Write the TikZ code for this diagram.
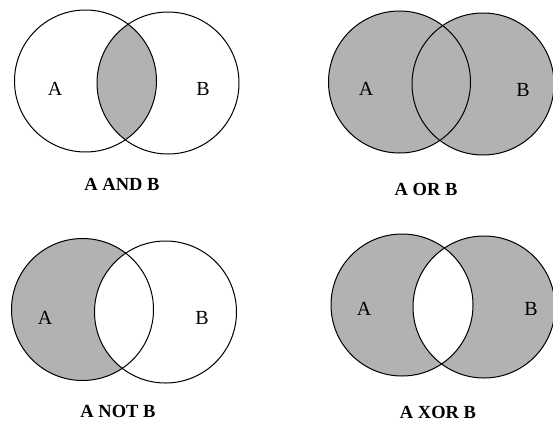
\documentclass[tikz,border=0pt]{standalone}
\usepackage{fontspec}
\setmainfont{Liberation Serif}
\begin{document}
\begin{tikzpicture}[x=1pt,y=-1pt,
  ring/.style={draw=black,line width=1pt},
  shade/.style={fill=black!30},
  setlabel/.style={font=\fontsize{20}{20}\selectfont},
  caption/.style={font=\bfseries\fontsize{18.5}{18.5}\selectfont,inner sep=1pt}]
\useasboundingbox (0,0) rectangle (553,423);
\def\R{71}
% ---------- A AND B ----------
\begin{scope}
  \clip (85.5,81) circle (\R);
  \fill[shade] (168,83) circle (\R);
\end{scope}
\draw[ring] (85.5,81) circle (\R);
\draw[ring] (168,83) circle (\R);
\node[setlabel] (a1) at (55,89) {A};
\node[setlabel] (b1) at (203,89) {B};
\node[caption] (c1) at (122,184) {A AND B};
% ---------- A OR B ----------
\fill[shade] (399.5,82) circle (\R);
\fill[shade] (483,84) circle (\R);
\draw[ring] (399.5,82) circle (\R);
\draw[ring] (483,84) circle (\R);
\node[setlabel] (a2) at (366,89) {A};
\node[setlabel] (b2) at (523,90) {B};
\node[caption] (c2) at (426,189) {A OR B};
% ---------- A NOT B ----------
\fill[shade,even odd rule] (82.5,309.5) circle (\R) (165.5,312) circle (\R);
\fill[white] (165.5,312) circle (\R);
\draw[ring] (82.5,309.5) circle (\R);
\draw[ring] (165.5,312) circle (\R);
\node[setlabel] (a3) at (45,318) {A};
\node[setlabel] (b3) at (202,318) {B};
\node[caption] (c3) at (118,411) {A NOT B};
% ---------- A XOR B ----------
\fill[shade,even odd rule] (402,305) circle (\R) (484,307) circle (\R);
\draw[ring] (402,305) circle (\R);
\draw[ring] (484,307) circle (\R);
\node[setlabel] (a4) at (364,309) {A};
\node[setlabel] (b4) at (531,309) {B};
\node[caption] (c4) at (438,412) {A XOR B};
\end{tikzpicture}
\end{document}
